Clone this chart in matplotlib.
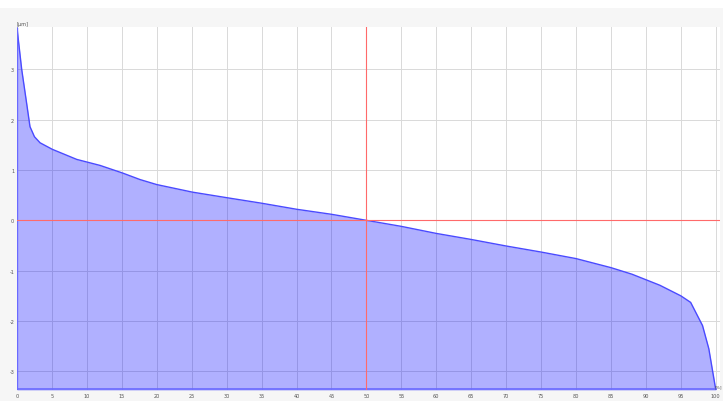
import matplotlib
matplotlib.use("Agg")
import matplotlib.pyplot as plt
from matplotlib.patches import Rectangle

# Bearing-area style profile: height [µm] versus material ratio [%]
ratio_pct = [0, 0.67, 1.3, 1.86, 2.5, 3.3, 5.06, 8.55, 11.9, 15.1, 17.6, 20,
             25.1, 30, 35, 40, 45, 50, 55, 60, 65, 70, 75, 80, 85, 88, 90,
             92, 95, 96.4, 98.1, 99, 100]
height_um = [3.82, 3.0, 2.4, 1.86, 1.66, 1.54, 1.41, 1.21, 1.09, 0.94, 0.81,
             0.71, 0.56, 0.45, 0.34, 0.22, 0.12, 0.0, -0.12, -0.26, -0.38,
             -0.51, -0.63, -0.76, -0.94, -1.07, -1.18, -1.29, -1.5, -1.63,
             -2.09, -2.55, -3.37]

x_ticks = list(range(0, 101, 5))
y_ticks = [-3, -2, -1, 0, 1, 2, 3]
y_min, y_max = -3.37, 3.84
x_min, x_max = 0, 100.6

fig = plt.figure(figsize=(7.23, 4.02), dpi=100, facecolor="#f6f6f6")
fig.patches.append(Rectangle((0, 1 - 9 / 402), 1, 9 / 402, transform=fig.transFigure,
                             facecolor="white", edgecolor="none", zorder=0))
ax = fig.add_axes([17 / 723, 1 - 391 / 402, 703 / 723, (391 - 28) / 402])
ax.set_facecolor("white")

ax.set_xlim(x_min, x_max)
ax.set_ylim(y_min, y_max)
ax.set_xticks(x_ticks)
ax.set_yticks(y_ticks)
ax.set_xticklabels([str(v) for v in x_ticks])
ax.set_yticklabels([str(v) for v in y_ticks])
ax.tick_params(length=0, labelsize=3.6, colors="#555555", pad=2)
ax.grid(True, color="#d9d9d9", linewidth=0.7, zorder=0)
for s in ax.spines.values():
    s.set_visible(False)

# filled area under the curve
ax.fill_between(ratio_pct, height_um, y_min, color="#0000ff", alpha=0.31,
                linewidth=0, zorder=2)
ax.plot(ratio_pct, height_um, color="#4a4aff", linewidth=1.0, zorder=3)
ax.plot([0, 0], [y_min, height_um[0]], color="#6a6aff", linewidth=1.0, zorder=3)
ax.plot([0, 100], [y_min + 0.02, y_min + 0.02], color="#6a6aff", linewidth=1.2, zorder=3)

# reference cross at 50 % / 0 µm
ax.axvline(50, color="#ff6a6a", linewidth=0.8, zorder=4)
ax.axhline(0, color="#ff6a6a", linewidth=0.8, zorder=4)

ax.text(0, y_max + 0.02, "[µm]", fontsize=3.6, color="#555555",
        ha="left", va="bottom")
fig.text(722 / 723, 1 - 389 / 402, "[%]", fontsize=3.2, color="#555555",
         ha="right", va="bottom")

fig.savefig("out.png", dpi=100, facecolor=fig.get_facecolor())
